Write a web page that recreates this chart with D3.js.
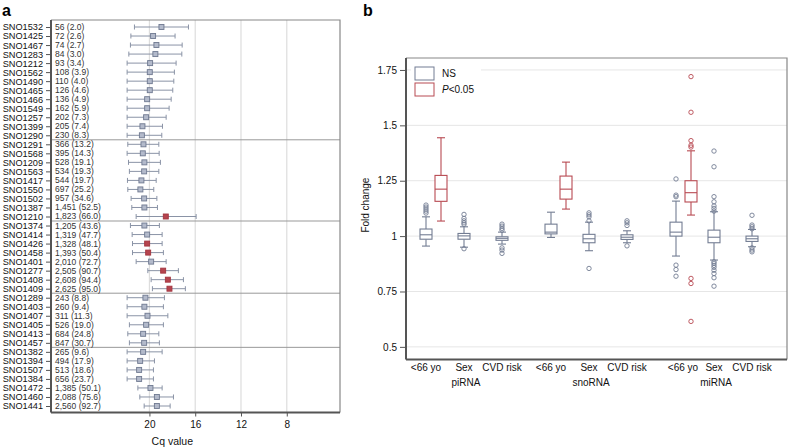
<!DOCTYPE html>
<html>
<head>
<meta charset="utf-8">
<script src="https://cdn.jsdelivr.net/npm/d3@7"></script>
<style>
  body { margin: 0; background: #fff; }
  svg { display: block; font-family: "Liberation Sans", Arial, sans-serif; }
</style>
</head>
<body>
<svg id="chart" width="788" height="447"></svg>
<script>
// panel a: snoRNA detection / Cq values
const snoNames = ["SNO1532","SNO1425","SNO1467","SNO1283","SNO1212","SNO1562","SNO1490","SNO1465","SNO1466","SNO1549","SNO1257","SNO1399","SNO1290",
  "SNO1291","SNO1568","SNO1209","SNO1563","SNO1417","SNO1550","SNO1502","SNO1387","SNO1210",
  "SNO1374","SNO1414","SNO1426","SNO1458","SNO1401","SNO1277","SNO1408","SNO1409",
  "SNO1289","SNO1403","SNO1407","SNO1405","SNO1413","SNO1457",
  "SNO1382","SNO1394","SNO1507","SNO1384","SNO1472","SNO1460","SNO1441"];
const detectLabels = ["56 (2.0)","72 (2.6)","74 (2.7)","84 (3.0)","93 (3.4)","108 (3.9)","110 (4.0)","126 (4.6)","136 (4.9)","162 (5.9)","202 (7.3)","205 (7.4)","230 (8.3)",
  "366 (13.2)","395 (14.3)","528 (19.1)","534 (19.3)","544 (19.7)","697 (25.2)","957 (34.6)","1,451 (52.5)","1,823 (66.0)",
  "1,205 (43.6)","1,319 (47.7)","1,328 (48.1)","1,393 (50.4)","2,010 (72.7)","2,505 (90.7)","2,608 (94.4)","2,625 (95.0)",
  "243 (8.8)","260 (9.4)","311 (11.3)","526 (19.0)","684 (24.8)","847 (30.7)",
  "265 (9.6)","494 (17.9)","513 (18.6)","656 (23.7)","1,385 (50.1)","2,088 (75.6)","2,560 (92.7)"];
const cqMean = [18.95,19.68,19.39,19.48,19.94,19.97,19.97,19.97,20.20,20.20,20.29,20.61,20.66,
  20.52,20.58,20.44,20.46,20.70,20.79,20.46,20.44,18.57,
  20.44,20.20,20.20,20.11,19.85,18.80,18.39,18.25,
  20.35,20.44,20.17,20.29,20.55,20.46,
  20.55,20.81,20.90,20.90,19.91,19.35,19.35];
const cqUpper = [21.31,21.62,21.66,21.80,21.95,21.95,21.95,21.95,21.95,21.95,21.95,21.95,21.95,
  21.89,21.95,21.83,21.75,21.92,21.89,21.60,21.54,21.16,
  21.66,21.51,21.48,21.48,21.16,20.14,19.85,19.74,
  21.95,21.95,21.95,21.75,21.89,21.75,
  21.95,21.95,21.95,21.95,21.01,20.84,20.46];
const cqLower = [16.59,17.76,17.14,17.17,17.67,17.82,17.87,17.96,18.10,18.28,18.54,18.86,18.92,
  19.18,19.15,19.04,19.18,19.41,19.62,19.35,19.30,15.92,
  19.13,18.89,18.89,18.78,18.54,17.47,17.03,16.86,
  18.69,18.78,18.39,18.78,19.18,19.13,
  18.89,19.56,19.65,19.65,18.89,17.90,18.19];
const significant = ["SNO1210","SNO1426","SNO1458","SNO1277","SNO1408","SNO1409"];
const groupSizes = [13, 9, 8, 6, 7];
const cqTicks = [20, 16, 12, 8];

// panel b: fold change box plots
const rnaClasses = ["piRNA","snoRNA","miRNA"];
const factors = ["<66 yo","Sex","CVD risk"];
const yTicks = [0.5, 0.75, 1, 1.25, 1.5, 1.75];
// [lower whisker, q1, median, q3, upper whisker]
const boxStats = [
  { cls: "piRNA", factor: "<66 yo", sig: false, stats: [0.955,0.986,1.006,1.032,1.087], out: [1.104,1.113,1.122,1.131,1.140] },
  { cls: "piRNA", factor: "<66 yo", sig: true,  stats: [1.068,1.157,1.212,1.274,1.444], out: [] },
  { cls: "piRNA", factor: "Sex", sig: false, stats: [0.950,0.986,1.001,1.012,1.042], out: [0.943,1.053,1.060,1.069,1.080,1.098] },
  { cls: "piRNA", factor: "CVD risk", sig: false, stats: [0.964,0.981,0.990,0.997,1.018], out: [0.922,0.937,0.947,1.027,1.035,1.045,1.054] },
  { cls: "snoRNA", factor: "<66 yo", sig: false, stats: [0.994,1.010,1.018,1.054,1.108], out: [] },
  { cls: "snoRNA", factor: "<66 yo", sig: true,  stats: [1.122,1.167,1.212,1.271,1.334], out: [] },
  { cls: "snoRNA", factor: "Sex", sig: false, stats: [0.934,0.970,0.988,1.008,1.063], out: [0.854,1.069,1.087,1.096,1.105] },
  { cls: "snoRNA", factor: "CVD risk", sig: false, stats: [0.970,0.985,0.995,1.006,1.024], out: [0.956,1.048,1.060,1.069] },
  { cls: "miRNA", factor: "<66 yo", sig: false, stats: [0.910,1.000,1.018,1.063,1.158], out: [0.819,0.849,0.869,1.178,1.185,1.258] },
  { cls: "miRNA", factor: "<66 yo", sig: true,  stats: [1.095,1.154,1.196,1.250,1.385], out: [0.615,0.786,0.809,1.402,1.410,1.431,1.559,1.720] },
  { cls: "miRNA", factor: "Sex", sig: false, stats: [0.892,0.970,0.995,1.027,1.110], out: [0.774,0.812,0.831,0.846,0.859,0.868,0.877,0.884,1.113,1.125,1.136,1.155,1.178,1.313,1.384] },
  { cls: "miRNA", factor: "CVD risk", sig: false, stats: [0.952,0.976,0.988,1.000,1.030], out: [0.929,0.937,0.947,1.033,1.042,1.050,1.094] }
];

const svg = d3.select("#chart");
const nsColor = "#737d93";
const redColor = "#b84a52";
const axisColor = "#555";
const frameColor = "#888";
const gridColor = "#ddd";

// ---------------- panel a ----------------
const a = { left: 51, right: 340, top: 20, bottom: 412.5 };
const xA = d3.scaleLinear().domain([28.6, 3.35]).range([a.left, a.right]);
const yA = d3.scalePoint().domain(snoNames).range([27, 406]);
const step = yA.step();

svg.append("text").attr("x", 2).attr("y", 16).attr("font-size", 16).attr("font-weight", "bold").text("a");

const ga = svg.append("g");
ga.selectAll("line.grid").data(cqTicks).join("line")
  .attr("x1", d => xA(d)).attr("x2", d => xA(d))
  .attr("y1", a.top).attr("y2", a.bottom)
  .attr("stroke", gridColor).attr("stroke-width", 1.2);

// separators between gene groups
let cum = 0;
const sepIdx = [];
groupSizes.slice(0, -1).forEach(n => { cum += n; sepIdx.push(cum); });
ga.selectAll("line.sep").data(sepIdx).join("line")
  .attr("x1", a.left).attr("x2", a.right)
  .attr("y1", i => yA(snoNames[i]) - step / 2).attr("y2", i => yA(snoNames[i]) - step / 2)
  .attr("stroke", "#999").attr("stroke-width", 1);

// frame
ga.append("path").attr("d", `M${a.left},${a.top}H${a.right}V${a.bottom}`)
  .attr("fill", "none").attr("stroke", frameColor).attr("stroke-width", 1.2);

const rows = snoNames.map((n, i) => ({ name: n, label: detectLabels[i], mean: cqMean[i], hi: cqUpper[i], lo: cqLower[i], sig: significant.includes(n) }));

const rowG = ga.selectAll("g.row").data(rows).join("g").attr("transform", d => `translate(0,${yA(d.name)})`);
rowG.append("line").attr("x1", d => xA(d.hi)).attr("x2", d => xA(d.lo)).attr("stroke", "#8a93a6").attr("stroke-width", 1);
rowG.append("line").attr("x1", d => xA(d.hi)).attr("x2", d => xA(d.hi)).attr("y1", -2.5).attr("y2", 2.5).attr("stroke", "#8a93a6");
rowG.append("line").attr("x1", d => xA(d.lo)).attr("x2", d => xA(d.lo)).attr("y1", -2.5).attr("y2", 2.5).attr("stroke", "#8a93a6");
rowG.append("rect")
  .attr("x", d => xA(d.mean) - 2.5).attr("y", -2.5).attr("width", 5).attr("height", 5)
  .attr("fill", d => d.sig ? "#b5444e" : "#b3bacb")
  .attr("stroke", d => d.sig ? "#a3353f" : "#6f7990").attr("stroke-width", 0.9);
rowG.append("text").attr("x", 55).attr("dy", "0.35em").attr("font-size", 8.5).attr("fill", "#333").text(d => d.label);

// axes
const yAxisA = d3.axisLeft(yA).tickSize(5).tickPadding(3);
ga.append("g").attr("transform", `translate(${a.left},0)`).call(yAxisA)
  .call(g => g.select(".domain").attr("d", `M0,${a.top}V${a.bottom}`).attr("stroke", axisColor).attr("stroke-width", 2))
  .call(g => g.selectAll(".tick line").attr("stroke", axisColor))
  .call(g => g.selectAll(".tick text").attr("font-size", 9.2).attr("fill", "#111").attr("font-family", "Liberation Sans, Arial, sans-serif"));

const xAxisA = d3.axisBottom(xA).tickValues(cqTicks).tickSize(4).tickPadding(4);
ga.append("g").attr("transform", `translate(0,${a.bottom})`).call(xAxisA)
  .call(g => g.select(".domain").attr("d", `M${a.left},0H${a.right}`).attr("stroke", axisColor).attr("stroke-width", 2))
  .call(g => g.selectAll(".tick line").attr("stroke", axisColor))
  .call(g => g.selectAll(".tick text").attr("font-size", 10).attr("fill", "#111").attr("font-family", "Liberation Sans, Arial, sans-serif"));

ga.append("text").attr("x", xA(18)).attr("y", 445).attr("text-anchor", "middle").attr("font-size", 10.5).attr("fill", "#111").text("Cq value");

// ---------------- panel b ----------------
const b = { left: 406, right: 787, top: 58, bottom: 359.5 };
const yB = d3.scaleLinear().domain([0.443, 1.804]).range([b.bottom, b.top]);
const xClass = d3.scalePoint().domain(rnaClasses).range([464, 714]);
const xFactor = d3.scalePoint().domain(factors).range([-38, 38]);
const sigShift = 15;
const boxW = 12, capW = 8;

svg.append("text").attr("x", 363).attr("y", 16).attr("font-size", 16).attr("font-weight", "bold").text("b");

const gb = svg.append("g");
gb.selectAll("line.grid").data(yTicks).join("line")
  .attr("x1", b.left).attr("x2", b.right)
  .attr("y1", d => yB(d)).attr("y2", d => yB(d))
  .attr("stroke", "#e6e6e6").attr("stroke-width", 1);

gb.append("path").attr("d", `M${b.left},${b.top}H${b.right}V${b.bottom}`)
  .attr("fill", "none").attr("stroke", frameColor).attr("stroke-width", 1.2);

const boxX = d => xClass(d.cls) + xFactor(d.factor) + (d.sig ? sigShift : 0);
const boxG = gb.selectAll("g.box").data(boxStats).join("g")
  .attr("transform", d => `translate(${boxX(d)},0)`)
  .attr("stroke", d => d.sig ? redColor : nsColor).attr("fill", "none").attr("stroke-width", 1.1);

boxG.append("line").attr("y1", d => yB(d.stats[0])).attr("y2", d => yB(d.stats[1]));
boxG.append("line").attr("y1", d => yB(d.stats[3])).attr("y2", d => yB(d.stats[4]));
boxG.append("line").attr("x1", -capW / 2).attr("x2", capW / 2).attr("y1", d => yB(d.stats[0])).attr("y2", d => yB(d.stats[0]));
boxG.append("line").attr("x1", -capW / 2).attr("x2", capW / 2).attr("y1", d => yB(d.stats[4])).attr("y2", d => yB(d.stats[4]));
boxG.append("rect").attr("x", -boxW / 2).attr("width", boxW)
  .attr("y", d => yB(d.stats[3])).attr("height", d => yB(d.stats[1]) - yB(d.stats[3])).attr("fill", "#fff");
boxG.append("line").attr("x1", -boxW / 2).attr("x2", boxW / 2).attr("y1", d => yB(d.stats[2])).attr("y2", d => yB(d.stats[2]));
boxG.selectAll("circle").data(d => d.out).join("circle")
  .attr("cx", 0).attr("cy", v => yB(v)).attr("r", 2.2).attr("stroke-width", 0.9);

// y axis
const yAxisB = d3.axisLeft(yB).tickValues(yTicks).tickFormat(d => d3.format("")(d)).tickSize(6).tickPadding(3);
gb.append("g").attr("transform", `translate(${b.left},0)`).call(yAxisB)
  .call(g => g.select(".domain").attr("d", `M0,${b.top}V${b.bottom}`).attr("stroke", axisColor).attr("stroke-width", 2))
  .call(g => g.selectAll(".tick line").attr("stroke", axisColor))
  .call(g => g.selectAll(".tick text").attr("font-size", 10).attr("fill", "#111").attr("font-family", "Liberation Sans, Arial, sans-serif"));
gb.append("line").attr("x1", b.left).attr("x2", b.right).attr("y1", b.bottom).attr("y2", b.bottom)
  .attr("stroke", axisColor).attr("stroke-width", 2);

gb.append("text").attr("transform", `translate(369,${yB(1.14)}) rotate(-90)`)
  .attr("text-anchor", "middle").attr("font-size", 10).attr("fill", "#111").text("Fold change");

// category labels
const labelShift = { piRNA: 0, snoRNA: 0, miRNA: 7 };
rnaClasses.forEach(cls => {
  factors.forEach(f => {
    gb.append("text")
      .attr("x", xClass(cls) + xFactor(f) + (f === "<66 yo" ? labelShift[cls] : 0))
      .attr("y", 371).attr("text-anchor", "middle").attr("font-size", 10).attr("fill", "#111").text(f);
  });
  gb.append("text").attr("x", xClass(cls) + 2).attr("y", 386).attr("text-anchor", "middle")
    .attr("font-size", 10).attr("fill", "#111").text(cls);
});

// legend
const legend = [{ label: "NS", color: nsColor }, { label: "P<0.05", color: redColor }];
const lg = gb.append("g").attr("transform", "translate(415,67)");
lg.append("rect").attr("x", -4).attr("y", -4).attr("width", 70).attr("height", 40).attr("fill", "#fff");
legend.forEach((d, i) => {
  lg.append("rect").attr("x", 0).attr("y", i * 16).attr("width", 19).attr("height", 13)
    .attr("fill", "#fff").attr("stroke", d.color).attr("stroke-width", 1);
  const t = lg.append("text").attr("x", 27).attr("y", i * 16 + 10).attr("font-size", 10).attr("fill", "#111");
  if (i === 1) {
    t.append("tspan").attr("font-style", "italic").text("P");
    t.append("tspan").text("<0.05");
  } else {
    t.text(d.label);
  }
});
</script>
</body>
</html>
